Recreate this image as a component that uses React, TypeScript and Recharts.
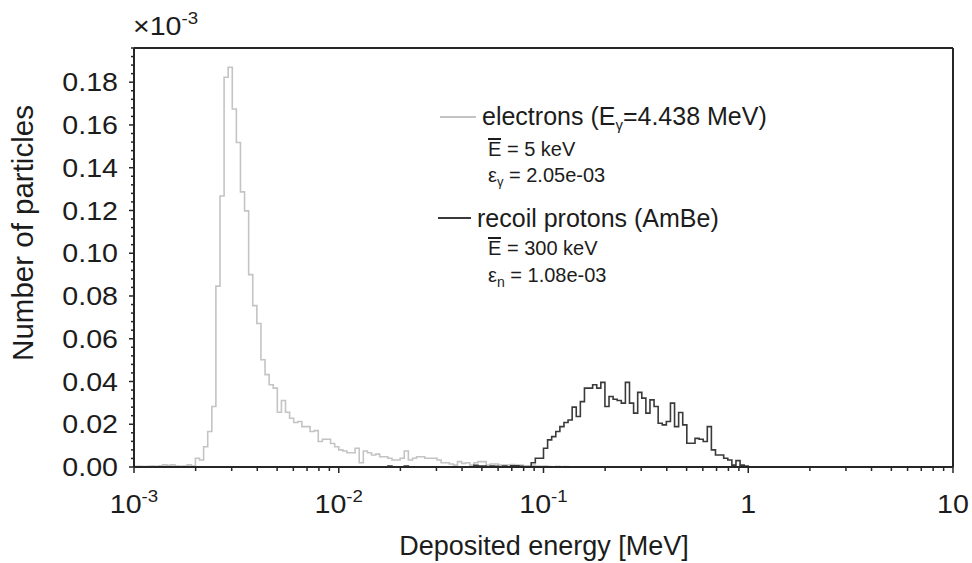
import React from "react";
import { Line, LineChart, XAxis, YAxis } from "recharts";

// histogram binning: 50 log bins per decade starting at 1 keV
const X_MIN = 0.001;
const BIN_DEX = 0.02;
const N_BINS = 200;

// electrons, bins 0..105 (values in units of 1e-3)
const ELECTRONS = [
  0.0003, 0.0003, 0.0002, 0.0003, 0.0004, 0.0003, 0.0006, 0.001, 0.0008, 0.001,
  0.0005, 0.0003, 0.0005, 0.001, 0.0005, 0.0041, 0.0033, 0.0095, 0.0166, 0.0283,
  0.0846, 0.1268, 0.1823, 0.187, 0.1675, 0.1518, 0.1287, 0.1198, 0.09, 0.0755,
  0.0671, 0.0502, 0.0432, 0.0385, 0.0369, 0.0256, 0.0311, 0.0256, 0.0228, 0.0208,
  0.0213, 0.0189, 0.0189, 0.0166, 0.017, 0.0119, 0.013, 0.013, 0.011, 0.0095,
  0.008, 0.0075, 0.0067, 0.0067, 0.0088, 0.002, 0.0075, 0.0067, 0.0056, 0.006,
  0.0048, 0.0048, 0.0041, 0.0033, 0.0033, 0.0041, 0.0075, 0.0033, 0.0041, 0.0048,
  0.0048, 0.0041, 0.0041, 0.0041, 0.0033, 0.002, 0.002, 0.0014, 0.0009, 0.0025,
  0.0017, 0.002, 0.0009, 0.002, 0.0025, 0.0025, 0.0009, 0.0014, 0.0014, 0.0009,
  0.0009, 0.0009, 0.0012, 0.0009, 0.0009, 0.0006, 0.0006, 0.0009, 0.0005, 0.0003,
  0.0004, 0.0002, 0, 0.0003, 0, 0.0002,
];

// recoil protons, bins 60..149
const PROTON_START = 60;
const PROTONS = [
  0, 0, 0.0005, 0, 0, 0, 0.0005, 0, 0, 0,
  0, 0, 0, 0, 0, 0, 0, 0, 0, 0,
  0, 0, 0, 0.0008, 0.0004, 0.0004, 0, 0.0005, 0.0003, 0,
  0.0005, 0, 0.0006, 0.0006, 0.0003, 0, 0, 0.002, 0.0041, 0.0041,
  0.0088, 0.0127, 0.0142, 0.0166, 0.0189, 0.0208, 0.022, 0.028, 0.0236, 0.0306,
  0.0369, 0.0369, 0.0385, 0.0369, 0.0396, 0.0283, 0.033, 0.0317, 0.0311, 0.0299,
  0.0396, 0.0299, 0.0252, 0.0349, 0.0322, 0.0252, 0.0314, 0.0283, 0.0205, 0.0197,
  0.0213, 0.0299, 0.0189, 0.0255, 0.0197, 0.0111, 0.0111, 0.0134, 0.013, 0.0119,
  0.0189, 0.008, 0.0056, 0.0056, 0.0041, 0.0033, 0.0009, 0.003, 0.0009, 0.0005,
];

const X_DOMAIN = [0.001, 10];
const X_MAJOR = [0.001, 0.01, 0.1, 1, 10];
const X_LABELS = [["10", "-3"], ["10", "-2"], ["10", "-1"], ["1", ""], ["10", ""]];
const X_MINOR_MULT = [2, 3, 4, 5, 6, 7, 8, 9];

const Y_DOMAIN = [0, 0.196];
const Y_MAJOR = [0, 0.02, 0.04, 0.06, 0.08, 0.1, 0.12, 0.14, 0.16, 0.18];
const Y_MINOR_STEP = 0.004;

const FONT = "'Liberation Sans', Arial, Helvetica, sans-serif";
const INK = "#1c1c1c";
const FRAME = "#262626";
const GREY = "#c4c4c4";
const DARK = "#3a3a3a";

const W = 972;
const H = 563;
// plot box: x 134..953, y 48..467
const MARGIN = { top: 47, right: 18, bottom: 0, left: 0 };
const Y_AXIS_W = 134;
const X_AXIS_H = 96;
// the tick labels in the source are drawn a little wide
const TICK_FONT = 26;
const TICK_STRETCH = 1.1;

const edge = (i: number) => X_MIN * Math.pow(10, i * BIN_DEX);

const rows = Array.from({ length: N_BINS + 1 }, (_, i) => {
  const j = i - PROTON_START;
  return {
    x: edge(i),
    e: i < ELECTRONS.length ? ELECTRONS[i] : i === ELECTRONS.length ? 0 : null,
    p: j >= 0 && j < PROTONS.length ? PROTONS[j] : j === PROTONS.length ? 0 : null,
  };
});

const xTicks = [
  ...X_MAJOR,
  ...X_MAJOR.slice(0, -1).flatMap((d) => X_MINOR_MULT.map((m) => d * m)),
];
const yTicks: number[] = [];
for (let k = 0; k * Y_MINOR_STEP <= Y_DOMAIN[1] + 1e-9; k++) yTicks.push(+(k * Y_MINOR_STEP).toFixed(3));

const majorIndex = (arr: number[], v: number) =>
  arr.findIndex((t) => Math.abs(t - v) <= Math.abs(t) * 1e-6 + 1e-9);

function XTick({ x, y, payload }: any) {
  const idx = majorIndex(X_MAJOR, payload.value);
  if (idx < 0) return <line x1={x} x2={x} y1={y} y2={y + 4} stroke={FRAME} strokeWidth={1.5} />;
  const [base, exp] = X_LABELS[idx];
  return (
    <g>
      <line x1={x} x2={x} y1={y} y2={y + 6} stroke={FRAME} strokeWidth={1.5} />
      <text
        transform={`translate(${x} ${y + 46}) scale(${TICK_STRETCH} 1)`}
        textAnchor="middle"
        fontFamily={FONT}
        fontSize={TICK_FONT}
        fill={INK}
      >
        {base}
        {exp && (
          <tspan fontSize={17} dy={-11}>
            {exp}
          </tspan>
        )}
      </text>
    </g>
  );
}

function YTick({ x, y, payload }: any) {
  const idx = majorIndex(Y_MAJOR, payload.value);
  if (idx < 0) return <line x1={x - 3} x2={x} y1={y} y2={y} stroke={FRAME} strokeWidth={1.5} />;
  return (
    <g>
      <line x1={x - 5} x2={x} y1={y} y2={y} stroke={FRAME} strokeWidth={1.5} />
      <text
        transform={`translate(${x - 16} ${y + 9.2}) scale(${TICK_STRETCH} 1)`}
        textAnchor="end"
        fontFamily={FONT}
        fontSize={TICK_FONT}
        fill={INK}
      >
        {Y_MAJOR[idx].toFixed(2)}
      </text>
    </g>
  );
}

function Overlay() {
  return (
    <svg
      width={W}
      height={H}
      style={{ position: "absolute", left: 0, top: 0, pointerEvents: "none" }}
      fontFamily={FONT}
      fill={INK}
    >
      <text transform={`translate(133 35) scale(${TICK_STRETCH} 1)`} fontSize={TICK_FONT}>
        ×10
        <tspan fontSize={17} dy={-11}>
          -3
        </tspan>
      </text>
      <text x={544} y={555} fontSize={27} textAnchor="middle">
        Deposited energy [MeV]
      </text>
      <text transform="translate(33 233) rotate(-90)" fontSize={29.5} textAnchor="middle">
        Number of particles
      </text>

      <line x1={440} x2={476} y1={117} y2={117} stroke={GREY} strokeWidth={2} />
      <text x={482} y={125} fontSize={25}>
        electrons (E
        <tspan fontSize={15} dy={5}>
          γ
        </tspan>
        <tspan dy={-5}>=4.438 MeV)</tspan>
      </text>
      <line x1={488} x2={501} y1={139} y2={139} stroke={INK} strokeWidth={2} />
      <text x={488} y={156} fontSize={20}>
        E = 5 keV
      </text>
      <text x={488} y={182} fontSize={20}>
        ε
        <tspan fontSize={13} dy={4}>
          γ
        </tspan>
        <tspan dy={-4}> = 2.05e-03</tspan>
      </text>

      <line x1={438} x2={471} y1={218} y2={218} stroke={DARK} strokeWidth={2} />
      <text x={477} y={227} fontSize={25}>
        recoil protons (AmBe)
      </text>
      <line x1={488} x2={501} y1={238} y2={238} stroke={INK} strokeWidth={2} />
      <text x={488} y={255} fontSize={20}>
        E = 300 keV
      </text>
      <text x={488} y={282} fontSize={20}>
        ε
        <tspan fontSize={14} dy={5}>
          n
        </tspan>
        <tspan dy={-5}> = 1.08e-03</tspan>
      </text>
    </svg>
  );
}

export default function App() {
  return (
    <div style={{ position: "absolute", left: 0, top: 0, width: W, height: H, background: "#fff" }}>
      <LineChart width={W} height={H} data={rows} margin={MARGIN}>
        <XAxis
          dataKey="x"
          type="number"
          scale="log"
          domain={X_DOMAIN}
          allowDataOverflow
          ticks={xTicks}
          interval={0}
          height={X_AXIS_H}
          tickSize={0}
          tickMargin={0}
          tickLine={false}
          tick={<XTick />}
          axisLine={{ stroke: FRAME, strokeWidth: 2 }}
        />
        <XAxis
          xAxisId="top"
          orientation="top"
          dataKey="x"
          type="number"
          scale="log"
          domain={X_DOMAIN}
          allowDataOverflow
          height={1}
          tick={false}
          tickLine={false}
          axisLine={{ stroke: FRAME, strokeWidth: 2 }}
        />
        <YAxis
          type="number"
          domain={Y_DOMAIN}
          allowDataOverflow
          ticks={yTicks}
          interval={0}
          width={Y_AXIS_W}
          tickSize={0}
          tickMargin={0}
          tickLine={false}
          tick={<YTick />}
          axisLine={{ stroke: FRAME, strokeWidth: 2 }}
        />
        <YAxis
          yAxisId="right"
          orientation="right"
          type="number"
          domain={Y_DOMAIN}
          allowDataOverflow
          width={1}
          tick={false}
          tickLine={false}
          axisLine={{ stroke: FRAME, strokeWidth: 2 }}
        />
        <Line
          dataKey="e"
          type="stepAfter"
          stroke={GREY}
          strokeWidth={1.6}
          dot={false}
          activeDot={false}
          isAnimationActive={false}
        />
        <Line
          dataKey="p"
          type="stepAfter"
          stroke={DARK}
          strokeWidth={1.6}
          dot={false}
          activeDot={false}
          isAnimationActive={false}
        />
      </LineChart>
      <Overlay />
    </div>
  );
}
